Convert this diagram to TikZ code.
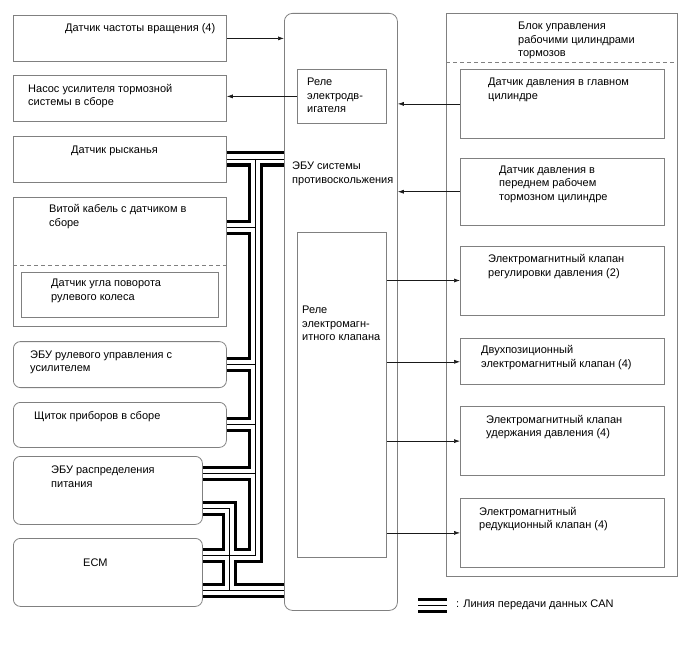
\documentclass[tikz,border=0pt]{standalone}
\usepackage{fontspec}
\setmainfont{Liberation Sans}
\usepackage{xcolor}
\usepackage{tikz}
\usetikzlibrary{positioning,arrows.meta}
\definecolor{framecol}{RGB}{128,128,128}
\definecolor{wirecol} {RGB}{25,25,25}

\begin{document}
\begin{tikzpicture}[x=1pt,y=-1pt,
  blk/.style={rectangle,draw=framecol,line width=0.8pt,
              anchor=north west,inner sep=0pt},
  rblk/.style={blk,rounded corners=7pt},
  txt/.style={anchor=north west,inner sep=0pt,align=left,
              font=\fontsize{11}{13.3}\selectfont},
  arr/.style={-{Latex[length=6pt,width=4pt]},line width=0.6pt,wirecol},
  dline/.style={framecol,line width=0.8pt,dash pattern=on 4pt off 3pt},
  can/.style={line width=15pt,black,
              postaction={draw,white,line width=9pt},
              postaction={draw,black,line width=0.9pt}}
]
\useasboundingbox (0,0) rectangle (688,658);
% left column
\node[blk,minimum width=213,minimum height=46] (spd) at (13,15) {};
\node[blk,minimum width=213,minimum height=46,below=13pt of spd] (pump) {};
\node[blk,minimum width=213,minimum height=46,below=14pt of pump] (yaw) {};
\node[blk,minimum width=213,minimum height=129,below=15pt of yaw] (spir) {};
\node[blk,minimum width=197,minimum height=45] (sas) at (21,272) {};
\node[rblk,minimum width=213,minimum height=46,below=14pt of spir] (eps) {};
\node[rblk,minimum width=213,minimum height=45,below=14pt of eps] (meter) {};
\node[rblk,minimum width=189,minimum height=68] (pdu) at (13,456) {};
\node[rblk,minimum width=189,minimum height=68] (ecm) at (13,538) {};
% ABS ECU
\node[blk,rounded corners=8pt,minimum width=113,minimum height=597] (skid) at (284,13) {};
\node[blk,minimum width=89,minimum height=54] (mrel) at (297,69) {};
\node[blk,minimum width=89,minimum height=325] (srel) at (297,232) {};
% actuator block
\node[blk,minimum width=231,minimum height=563] (act) at (446,13) {};
\node[blk,minimum width=204,minimum height=69] (mc) at (460,69) {};
\node[blk,minimum width=204,minimum height=67,below=19pt of mc] (fc) {};
\node[blk,minimum width=204,minimum height=69,below=20pt of fc] (v1) {};
\node[blk,minimum width=204,minimum height=46,below=23pt of v1] (v2) {};
\node[blk,minimum width=204,minimum height=69,below=21pt of v2] (v3) {};
\node[blk,minimum width=204,minimum height=69,below=22pt of v3] (v4) {};
\draw[dline] ([shift={(0,68)}]spir.north west) -- ([shift={(0,68)}]spir.north east);
\draw[dline] ([shift={(0,49)}]act.north west) -- ([shift={(0,49)}]act.north east);
% texts
\node[txt] (t-spd) at ([shift={(52,8)}]spd.north west) {Датчик частоты вращения (4)};
\node[txt] (t-pump) at ([shift={(15,9)}]pump.north west) {Насос усилителя тормозной\\системы в сборе};
\node[txt] (t-yaw) at ([shift={(58,10)}]yaw.north west) {Датчик рысканья};
\node[txt] (t-spir) at ([shift={(36,7)}]spir.north west) {Витой кабель с датчиком в\\сборе};
\node[txt] (t-sas) at ([shift={(30,7)}]sas.north west) {Датчик угла поворота\\рулевого колеса};
\node[txt] (t-eps) at ([shift={(17,9)}]eps.north west) {ЭБУ рулевого управления с\\усилителем};
\node[txt] (t-meter) at ([shift={(21,9)}]meter.north west) {Щиток приборов в сборе};
\node[txt] (t-pdu) at ([shift={(38,10)}]pdu.north west) {ЭБУ распределения\\питания};
\node[txt] (t-ecm) at ([shift={(70,21)}]ecm.north west) {ECM};
\node[txt] (t-mrel) at ([shift={(10,9)}]mrel.north west) {Реле\\электродв-\\игателя};
\node[txt] (t-skid) at ([shift={(8,149)}]skid.north west) {ЭБУ системы\\противоскольжения};
\node[txt] (t-srel) at ([shift={(5,74)}]srel.north west) {Реле\\электромагн-\\итного клапана};
\node[txt] (t-act) at ([shift={(72,9)}]act.north west) {Блок управления\\рабочими цилиндрами\\тормозов};
\node[txt] (t-mc) at ([shift={(28,9)}]mc.north west) {Датчик давления в главном\\цилиндре};
\node[txt] (t-fc) at ([shift={(39,8)}]fc.north west) {Датчик давления в\\переднем рабочем\\тормозном цилиндре};
\node[txt] (t-v1) at ([shift={(28,9)}]v1.north west) {Электромагнитный клапан\\регулировки давления (2)};
\node[txt] (t-v2) at ([shift={(21,7)}]v2.north west) {Двухпозиционный\\электромагнитный клапан (4)};
\node[txt] (t-v3) at ([shift={(26,9)}]v3.north west) {Электромагнитный клапан\\удержания давления (4)};
\node[txt] (t-v4) at ([shift={(19,9)}]v4.north west) {Электромагнитный\\редукционный клапан (4)};
% signal arrows
\draw[arr] (spd.east) -- (spd.east -| skid.west);
\draw[arr] (mrel.west) -- (mrel.west -| pump.east);
\draw[arr] (mc.west) -- (mc.west -| skid.east);
\draw[arr] (fc.west) -- (fc.west -| skid.east);
\draw[arr] (v1.west -| srel.east) -- (v1.west);
\draw[arr] (v2.west -| srel.east) -- (v2.west);
\draw[arr] (v3.west -| srel.east) -- (v3.west);
\draw[arr] (v4.west -| srel.east) -- (v4.west);
% CAN bus
\coordinate (trk) at (255.5,0);
\coordinate (sec) at (229,0);
\coordinate (spirA) at ([shift={(0,30)}]spir.north east);
\coordinate (pduA) at ([shift={(0,17)}]pdu.north east);
\coordinate (pduB) at ([shift={(0,52)}]pdu.north east);
\coordinate (ecmA) at ([shift={(0,17)}]ecm.north east);
\coordinate (ecmB) at ([shift={(0,52)}]ecm.north east);
\draw[can] (yaw.east) -- (yaw.east -| skid.west)
  (yaw.east -| trk) |- (ecmA)
  (spirA) -- (spirA -| trk)
  (eps.east) -- (eps.east -| trk)
  (meter.east) -- (meter.east -| trk)
  (pduA) -- (pduA -| trk)
  (ecmB) -- (ecmB -| skid.west)
  (pduB) -| (ecmB -| sec);
% legend
\coordinate (lgA) at (418,605);
\coordinate (lgB) at (447,605);
\draw[can] (lgA) -- (lgB);
\node[txt,anchor=west] (t-lg) at ([xshift=9pt]lgB) {: Линия передачи данных CAN};
\end{tikzpicture}
\end{document}
